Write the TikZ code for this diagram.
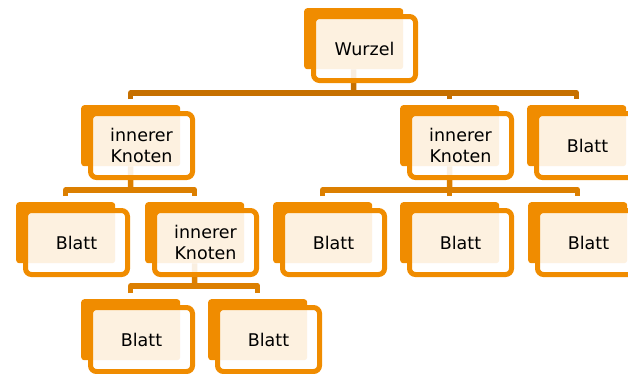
\documentclass[tikz,border=0pt]{standalone}
\usepackage{fontspec}
\setmainfont{DejaVu Sans}
\definecolor{orgA}{RGB}{240,140,0}
\definecolor{conTop}{RGB}{198,112,0}
\definecolor{conLow}{RGB}{220,127,0}
\begin{document}
\begin{tikzpicture}[x=1pt,y=-1pt,
  backbox/.style={fill=orgA, rounded corners=3pt, minimum width=99pt, minimum height=61pt, inner sep=0pt, anchor=north west},
  frontbox/.style={draw=orgA, line width=5pt, fill=white, fill opacity=0.88, text opacity=1, rounded corners=6pt, minimum width=102pt, minimum height=64pt, inner sep=0pt, align=center, text=black, font=\fontsize{17.5pt}{21.7pt}\selectfont},
  contop/.style={draw=conTop, line width=5.5pt, line join=round},
  conlow/.style={draw=conLow, line width=5.5pt, line join=round}]
\useasboundingbox (0,0) rectangle (628,373);
% back boxes
\node[backbox] (wb) at (304,8) {};
\node[backbox] (ikLb) at (81,105) {};
\node[backbox] (ikRb) at (400,105) {};
\node[backbox] (bTRb) at (527,105) {};
\node[backbox] (b1b) at (16,202) {};
\node[backbox] (ikMb) at (145,202) {};
\node[backbox] (b2b) at (273,202) {};
\node[backbox] (b3b) at (400,202) {};
\node[backbox] (b4b) at (528,202) {};
\node[backbox] (b5b) at (81,299) {};
\node[backbox] (b6b) at (208,299) {};
% connectors
\coordinate (barA) at (353.5,93);
\draw[contop] (wb.south) -- (barA);
\draw[contop] ([yshift=6pt]ikLb.north) |- (barA) -| ([yshift=6pt]bTRb.north);
\draw[contop] ([yshift=6pt]ikRb.north) -- (ikRb.north |- barA);
\coordinate (barB) at (130.5,190);
\draw[conlow] (ikLb.south) -- (barB);
\draw[conlow] ([yshift=6pt]b1b.north) |- (barB) -| ([yshift=6pt]ikMb.north);
\coordinate (barC) at (449.5,190);
\draw[conlow] (ikRb.south) -- (barC);
\draw[conlow] ([yshift=6pt]b2b.north) |- (barC) -| ([yshift=6pt]b4b.north);
\draw[conlow] ([yshift=6pt]b3b.north) -- (b3b.north |- barC);
\coordinate (barD) at (194.5,286);
\draw[conlow] (ikMb.south) -- (barD);
\draw[conlow] ([yshift=6pt]b5b.north) |- (barD) -| ([yshift=6pt]b6b.north);
% front boxes
\node[frontbox] (w) at ([xshift=60.5pt,yshift=-40.5pt]wb.north west) {Wurzel};
\node[frontbox] (ikL) at ([xshift=60.5pt,yshift=-40.5pt]ikLb.north west) {innerer\\Knoten};
\node[frontbox] (ikR) at ([xshift=60.5pt,yshift=-40.5pt]ikRb.north west) {innerer\\Knoten};
\node[frontbox] (bTR) at ([xshift=60.5pt,yshift=-40.5pt]bTRb.north west) {Blatt};
\node[frontbox] (b1) at ([xshift=60.5pt,yshift=-40.5pt]b1b.north west) {Blatt};
\node[frontbox] (ikM) at ([xshift=60.5pt,yshift=-40.5pt]ikMb.north west) {innerer\\Knoten};
\node[frontbox] (b2) at ([xshift=60.5pt,yshift=-40.5pt]b2b.north west) {Blatt};
\node[frontbox] (b3) at ([xshift=60.5pt,yshift=-40.5pt]b3b.north west) {Blatt};
\node[frontbox] (b4) at ([xshift=60.5pt,yshift=-40.5pt]b4b.north west) {Blatt};
\node[frontbox] (b5) at ([xshift=60.5pt,yshift=-40.5pt]b5b.north west) {Blatt};
\node[frontbox] (b6) at ([xshift=60.5pt,yshift=-40.5pt]b6b.north west) {Blatt};
\end{tikzpicture}
\end{document}
